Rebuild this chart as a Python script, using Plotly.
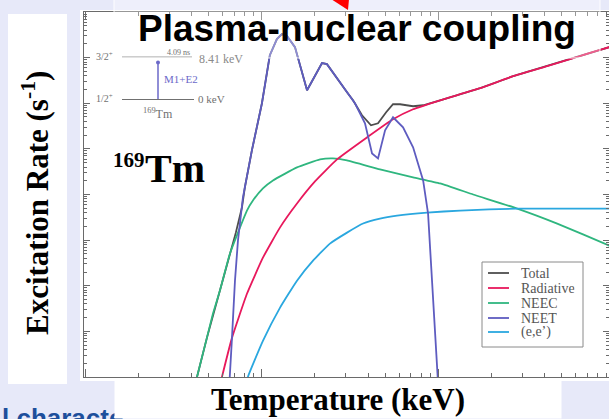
import plotly.graph_objects as go

# ---- excitation rates of 169Tm versus plasma temperature ----
# temperature in keV, rate in s^-1
total_T = [0.406, 0.428, 0.487, 0.577, 0.658, 0.711, 0.770, 0.80, 0.877, 1.0, 1.109, 1.216,
           1.299, 1.387, 1.540, 1.803, 2.193, 2.339, 3.041, 3.289, 3.698, 4.159, 4.560, 5.07,
           5.546, 6.081, 7.211, 8.222, 10.26, 17.34, 26.67, 41.59, 58.48, 93.8, 100]
total_R = [3.8e-11, 1.0e-10, 7.2e-10, 7.76e-9, 5.3e-8, 1.46e-7, 5.18e-7, 1.43e-6, 9.27e-6,
           1.0e-4, 1.13e-3, 2.55e-3, 3.28e-3, 2.97e-3, 1.70e-3, 1.93e-4, 7.57e-4, 7.19e-4,
           1.75e-4, 1.16e-4, 5.45e-5, 3.28e-5, 3.63e-5, 6.34e-5, 9.5e-5, 9.5e-5, 8.59e-5,
           9.04e-5, 1.16e-4, 2.14e-4, 3.92e-4, 6.5e-4, 9.75e-4, 1.70e-3, 1.75e-3]

rad_T = [0.562, 0.593, 0.676, 0.822, 1.013, 1.265, 1.581, 2.0, 2.667, 3.954, 5.546,
         7.211, 10.26, 17.34, 26.67, 41.59, 58.48, 93.8, 100]
rad_R = [4.2e-11, 1.0e-10, 7.2e-10, 6.67e-9, 4.12e-8, 1.88e-7, 6.34e-7, 1.93e-6, 5.87e-6,
         1.79e-5, 4.45e-5, 7.38e-5, 1.16e-4, 2.14e-4, 3.92e-4, 6.5e-4, 9.75e-4, 1.70e-3, 1.75e-3]

neec_T = [0.406, 0.428, 0.487, 0.527, 0.577, 0.658, 0.750, 0.822, 0.889, 1.013, 1.155,
          1.581, 2.138, 2.529, 3.041, 4.677, 7.211, 10.26, 15.81, 28.12, 47.42, 93.8, 100]
neec_R = [3.8e-11, 1.0e-10, 7.2e-10, 2.43e-9, 7.76e-9, 5.05e-8, 1.88e-7, 4.45e-7, 7.38e-7,
          1.36e-6, 2.03e-6, 3.92e-6, 5.87e-6, 6.18e-6, 5.58e-6, 3.54e-6, 2.37e-6, 1.75e-6,
          1.0e-6, 4.92e-7, 2.31e-7, 7.57e-8, 6.84e-8]

neet_T = [0.645, 0.658, 0.676, 0.703, 0.731, 0.780, 0.877, 1.0, 1.109, 1.216, 1.299, 1.387,
          1.540, 1.803, 2.193, 2.339, 3.041, 3.373, 3.846, 4.217, 4.560, 5.0, 5.546, 6.324,
          7.211, 8.222, 8.77, 9.38, 10.0, 10.13]
neet_R = [3e-11, 1.0e-10, 7.2e-10, 1.29e-8, 9.75e-8, 8.6e-7, 9.27e-6, 1.0e-4, 1.13e-3,
          2.55e-3, 3.28e-3, 2.97e-3, 1.70e-3, 1.93e-4, 7.57e-4, 7.19e-4, 1.75e-4, 1.0e-4,
          3.63e-5, 7.96e-6, 6.18e-6, 2.55e-5, 4.92e-5, 2.97e-5, 1.08e-5, 2.03e-6, 3.82e-7,
          5.45e-9, 1.0e-10, 3e-11]

ee_T = [0.78, 0.832, 1.013, 1.265, 1.581, 1.950, 2.432, 3.041, 3.750, 4.677, 5.848, 8.66,
        13.34, 28.12, 100]
ee_R = [3.8e-11, 1.0e-10, 6.18e-10, 3.28e-9, 1.29e-8, 3.54e-8, 8.38e-8, 1.46e-7, 2.31e-7,
        2.97e-7, 3.45e-7, 4.02e-7, 4.45e-7, 4.92e-7, 4.92e-7]

legend_labels = ["Total", "Radiative", "NEEC", "NEET", "(e,e’)"]
colors = {"Total": "#4d4d4d", "Radiative": "#e8185c", "NEEC": "#2fb67f",
          "NEET": "#5e5cc0", "(e,e’)": "#2aa7df"}
curves = {"Total": (total_T, total_R), "Radiative": (rad_T, rad_R),
          "NEEC": (neec_T, neec_R), "NEET": (neet_T, neet_R), "(e,e’)": (ee_T, ee_R)}
draw_order = ["Total", "NEEC", "(e,e’)", "Radiative", "NEET"]
smooth_curves = {"Radiative", "NEEC", "(e,e’)"}

# decades spanned by each log axis (for the minor ticks)
x_decades = [-1, 0, 1]
y_decades = list(range(-10, -2))

# ---- canvas geometry (pixels) ----
W, H = 609, 419
ML, MR, MT, MB = 84, 0, 12, 42
PW, PH = W - ML - MR, H - MT - MB
BG = "#e7e9f9"


def px(x):
    return (x - ML) / PW


def py(y):
    return (H - MB - y) / PH


fig = go.Figure()
for name in draw_order:
    t, r = curves[name]
    line = dict(color=colors[name], width=1.8)
    if name in smooth_curves:
        line.update(shape="spline", smoothing=0.4)
    fig.add_trace(go.Scatter(x=t, y=r, mode="lines", name=name, line=line))


def minor_vals(decades):
    return [m * 10.0 ** k for k in decades for m in range(2, 10)]


TICK = "#6a6a6a"
axis_common = dict(type="log", showgrid=False, zeroline=False, showticklabels=False,
                   showline=True, linecolor=TICK, linewidth=1, mirror="allticks",
                   ticks="inside", tickcolor=TICK, dtick=1)
fig.update_xaxes(range=[-1.01, 1.97], ticklen=8,
                 minor=dict(ticks="inside", ticklen=4, tickmode="array",
                            tickvals=minor_vals(x_decades), tickcolor=TICK, showgrid=False),
                 **axis_common)
fig.update_yaxes(range=[-10, -2], ticklen=6,
                 minor=dict(ticks="inside", ticklen=3, tickmode="array",
                            tickvals=minor_vals(y_decades), tickcolor=TICK, showgrid=False),
                 **axis_common)

shapes = []
# white cards behind the axes and the vertical title
shapes.append(dict(type="rect", xref="paper", yref="paper", layer="below",
                   x0=px(80), x1=px(612), y0=py(381), y1=py(10),
                   fillcolor="white", line=dict(width=0)))
shapes.append(dict(type="rect", xref="paper", yref="paper", layer="below",
                   x0=px(8), x1=px(67), y0=py(384), y1=py(14),
                   fillcolor="white", line=dict(width=0)))

# level scheme inset
GRAY = "#707070"
PURPLE = "#6b69c9"
shapes.append(dict(type="line", xref="paper", yref="paper", x0=px(122), x1=px(192),
                   y0=py(57), y1=py(57), line=dict(color=GRAY, width=1)))
shapes.append(dict(type="line", xref="paper", yref="paper", x0=px(122), x1=px(194),
                   y0=py(99.5), y1=py(99.5), line=dict(color=GRAY, width=1)))
shapes.append(dict(type="line", xref="paper", yref="paper", x0=px(158), x1=px(158),
                   y0=py(99), y1=py(63), line=dict(color=PURPLE, width=1.5)))
shapes.append(dict(type="circle", xref="paper", yref="paper", x0=px(156), x1=px(160),
                   y0=py(64.5), y1=py(60.5), fillcolor=PURPLE, line=dict(width=0)))

# legend box and samples
shapes.append(dict(type="rect", xref="paper", yref="paper", layer="above",
                   x0=px(482), x1=px(583), y0=py(347), y1=py(262),
                   fillcolor="white", line=dict(color="#8a8a8a", width=1)))
row_y = [273, 288, 303, 318, 332]
for lab, yy in zip(legend_labels, row_y):
    shapes.append(dict(type="line", xref="paper", yref="paper", layer="above",
                       x0=px(488), x1=px(509), y0=py(yy), y1=py(yy),
                       line=dict(color=colors[lab], width=1.8)))

# translucent header panel and pointer
shapes.append(dict(type="rect", xref="paper", yref="paper", layer="above",
                   x0=px(114), x1=px(600), y0=py(58), y1=py(-1),
                   fillcolor="rgba(255,255,255,0.3)", line=dict(color="rgba(255,255,255,0.9)", width=1)))
shapes.append(dict(type="path", xref="paper", yref="paper", layer="above",
                   path=f"M {px(331)},{py(-1)} L {px(349)},{py(-1)} L {px(348)},{py(10)} Z",
                   fillcolor="#ff0000", line=dict(width=0)))
fig.update_layout(shapes=shapes)

ann = []


def text(s, x, y, size, color="black", family="Liberation Serif", xanchor="center",
         weight="normal", **kw):
    ann.append(dict(text=s, x=px(x), y=py(y), xref="paper", yref="paper", showarrow=False,
                    xanchor=xanchor, yanchor="middle",
                    font=dict(size=size, color=color, family=family, weight=weight), **kw))


# level scheme labels
text("3/2<sup>+</sup>", 104, 56, 10, GRAY)
text("1/2<sup>+</sup>", 104, 98, 10, GRAY)
text("4.09 ns", 178, 52, 8, GRAY)
text("8.41 keV", 197, 59, 12, "#8a8a8a", xanchor="left")
text("M1+E2", 162, 79, 11, PURPLE, xanchor="left")
text("0 keV", 196, 99, 11, GRAY, xanchor="left")
text("<sup>169</sup>Tm", 158, 114, 12, GRAY)

# isotope tag
text("169", 129, 160, 21, weight="bold")
text("Tm", 175, 168, 40, weight="bold")

# legend labels
for lab, yy in zip(legend_labels, row_y):
    text(lab, 519, yy, 14, "#555555", xanchor="left", height=14)

# slide text below the chart
text("l characte", 0, 418, 26, "#1d4f9c", family="Liberation Sans", xanchor="left", weight="bold")

# axis titles
text("Temperature (keV)", 338, 399, 31, weight="bold", bgcolor="white",
     width=446, height=38, borderpad=0)
text("Excitation Rate (s<sup>-1</sup>)", 36, 203, 31, weight="bold", textangle=-90)

# heading
text("Plasma-nuclear coupling", 357, 28, 37, family="Liberation Sans", weight="bold")

fig.update_layout(width=W, height=H, margin=dict(l=ML, r=MR, t=MT, b=MB),
                  paper_bgcolor=BG, plot_bgcolor="white", showlegend=False, annotations=ann)

fig.write_html("out.html")
